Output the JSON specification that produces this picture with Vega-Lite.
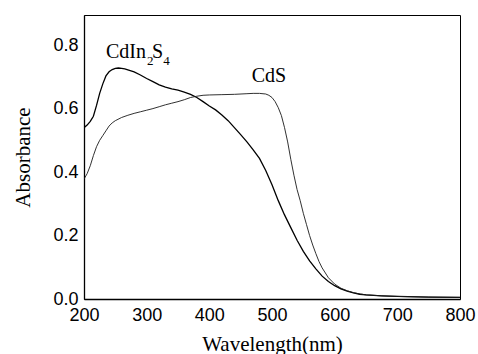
{
  "$schema": "https://vega.github.io/schema/vega-lite/v6.json",
  "width": 376,
  "height": 284,
  "autosize": "none",
  "padding": {"left": 84, "top": 15, "right": 18, "bottom": 55},
  "background": "white",
  "config": {
    "view": {"stroke": "black", "strokeWidth": 1},
    "axis": {
      "grid": false,
      "labelFont": "Liberation Sans",
      "labelFontSize": 18,
      "labelColor": "black",
      "titleFont": "Liberation Serif",
      "titleFontSize": 21,
      "titleFontWeight": "normal",
      "titleColor": "black",
      "domainColor": "black",
      "domainWidth": 1.3,
      "tickColor": "black",
      "tickWidth": 1
    }
  },
  "layer": [
    {
      "data": {
        "values": [
          {"sample": "CdIn2S4", "wavelength": 200, "absorbance": 0.54},
          {"sample": "CdIn2S4", "wavelength": 205, "absorbance": 0.548},
          {"sample": "CdIn2S4", "wavelength": 210, "absorbance": 0.56},
          {"sample": "CdIn2S4", "wavelength": 215, "absorbance": 0.576},
          {"sample": "CdIn2S4", "wavelength": 220, "absorbance": 0.61},
          {"sample": "CdIn2S4", "wavelength": 225, "absorbance": 0.648},
          {"sample": "CdIn2S4", "wavelength": 230, "absorbance": 0.678},
          {"sample": "CdIn2S4", "wavelength": 235, "absorbance": 0.703},
          {"sample": "CdIn2S4", "wavelength": 240, "absorbance": 0.716},
          {"sample": "CdIn2S4", "wavelength": 245, "absorbance": 0.723},
          {"sample": "CdIn2S4", "wavelength": 250, "absorbance": 0.727},
          {"sample": "CdIn2S4", "wavelength": 255, "absorbance": 0.728},
          {"sample": "CdIn2S4", "wavelength": 260, "absorbance": 0.727},
          {"sample": "CdIn2S4", "wavelength": 265, "absorbance": 0.725},
          {"sample": "CdIn2S4", "wavelength": 270, "absorbance": 0.722},
          {"sample": "CdIn2S4", "wavelength": 280, "absorbance": 0.716},
          {"sample": "CdIn2S4", "wavelength": 290, "absorbance": 0.706},
          {"sample": "CdIn2S4", "wavelength": 300, "absorbance": 0.695},
          {"sample": "CdIn2S4", "wavelength": 310, "absorbance": 0.685},
          {"sample": "CdIn2S4", "wavelength": 320, "absorbance": 0.675},
          {"sample": "CdIn2S4", "wavelength": 330, "absorbance": 0.668},
          {"sample": "CdIn2S4", "wavelength": 340, "absorbance": 0.662},
          {"sample": "CdIn2S4", "wavelength": 350, "absorbance": 0.658},
          {"sample": "CdIn2S4", "wavelength": 360, "absorbance": 0.652},
          {"sample": "CdIn2S4", "wavelength": 370, "absorbance": 0.645},
          {"sample": "CdIn2S4", "wavelength": 380, "absorbance": 0.635},
          {"sample": "CdIn2S4", "wavelength": 390, "absorbance": 0.622},
          {"sample": "CdIn2S4", "wavelength": 400, "absorbance": 0.608},
          {"sample": "CdIn2S4", "wavelength": 410, "absorbance": 0.596},
          {"sample": "CdIn2S4", "wavelength": 420, "absorbance": 0.58},
          {"sample": "CdIn2S4", "wavelength": 430, "absorbance": 0.562},
          {"sample": "CdIn2S4", "wavelength": 440, "absorbance": 0.54},
          {"sample": "CdIn2S4", "wavelength": 450, "absorbance": 0.518},
          {"sample": "CdIn2S4", "wavelength": 460, "absorbance": 0.495},
          {"sample": "CdIn2S4", "wavelength": 470, "absorbance": 0.47},
          {"sample": "CdIn2S4", "wavelength": 480, "absorbance": 0.443},
          {"sample": "CdIn2S4", "wavelength": 490, "absorbance": 0.405},
          {"sample": "CdIn2S4", "wavelength": 500, "absorbance": 0.36},
          {"sample": "CdIn2S4", "wavelength": 510, "absorbance": 0.31},
          {"sample": "CdIn2S4", "wavelength": 520, "absorbance": 0.265},
          {"sample": "CdIn2S4", "wavelength": 530, "absorbance": 0.225},
          {"sample": "CdIn2S4", "wavelength": 540, "absorbance": 0.185},
          {"sample": "CdIn2S4", "wavelength": 550, "absorbance": 0.15},
          {"sample": "CdIn2S4", "wavelength": 560, "absorbance": 0.12},
          {"sample": "CdIn2S4", "wavelength": 570, "absorbance": 0.095},
          {"sample": "CdIn2S4", "wavelength": 580, "absorbance": 0.072},
          {"sample": "CdIn2S4", "wavelength": 590, "absorbance": 0.055},
          {"sample": "CdIn2S4", "wavelength": 600, "absorbance": 0.042},
          {"sample": "CdIn2S4", "wavelength": 610, "absorbance": 0.032},
          {"sample": "CdIn2S4", "wavelength": 620, "absorbance": 0.025},
          {"sample": "CdIn2S4", "wavelength": 630, "absorbance": 0.019},
          {"sample": "CdIn2S4", "wavelength": 640, "absorbance": 0.015},
          {"sample": "CdIn2S4", "wavelength": 650, "absorbance": 0.013},
          {"sample": "CdIn2S4", "wavelength": 675, "absorbance": 0.01},
          {"sample": "CdIn2S4", "wavelength": 700, "absorbance": 0.008},
          {"sample": "CdIn2S4", "wavelength": 750, "absorbance": 0.006},
          {"sample": "CdIn2S4", "wavelength": 800, "absorbance": 0.005},
          {"sample": "CdS", "wavelength": 200, "absorbance": 0.378},
          {"sample": "CdS", "wavelength": 205, "absorbance": 0.395},
          {"sample": "CdS", "wavelength": 210, "absorbance": 0.42},
          {"sample": "CdS", "wavelength": 215, "absorbance": 0.452},
          {"sample": "CdS", "wavelength": 220, "absorbance": 0.48},
          {"sample": "CdS", "wavelength": 225, "absorbance": 0.5},
          {"sample": "CdS", "wavelength": 230, "absorbance": 0.515},
          {"sample": "CdS", "wavelength": 235, "absorbance": 0.53},
          {"sample": "CdS", "wavelength": 240, "absorbance": 0.545},
          {"sample": "CdS", "wavelength": 245, "absorbance": 0.555},
          {"sample": "CdS", "wavelength": 250, "absorbance": 0.562},
          {"sample": "CdS", "wavelength": 260, "absorbance": 0.572},
          {"sample": "CdS", "wavelength": 270, "absorbance": 0.579},
          {"sample": "CdS", "wavelength": 280, "absorbance": 0.585},
          {"sample": "CdS", "wavelength": 290, "absorbance": 0.59},
          {"sample": "CdS", "wavelength": 300, "absorbance": 0.595},
          {"sample": "CdS", "wavelength": 310, "absorbance": 0.6},
          {"sample": "CdS", "wavelength": 320, "absorbance": 0.606},
          {"sample": "CdS", "wavelength": 330, "absorbance": 0.612},
          {"sample": "CdS", "wavelength": 340, "absorbance": 0.617},
          {"sample": "CdS", "wavelength": 350, "absorbance": 0.622},
          {"sample": "CdS", "wavelength": 360, "absorbance": 0.628},
          {"sample": "CdS", "wavelength": 370, "absorbance": 0.635},
          {"sample": "CdS", "wavelength": 380, "absorbance": 0.639},
          {"sample": "CdS", "wavelength": 390, "absorbance": 0.642},
          {"sample": "CdS", "wavelength": 400, "absorbance": 0.643},
          {"sample": "CdS", "wavelength": 420, "absorbance": 0.644},
          {"sample": "CdS", "wavelength": 440, "absorbance": 0.645},
          {"sample": "CdS", "wavelength": 460, "absorbance": 0.647},
          {"sample": "CdS", "wavelength": 470, "absorbance": 0.648},
          {"sample": "CdS", "wavelength": 480, "absorbance": 0.648},
          {"sample": "CdS", "wavelength": 490, "absorbance": 0.646},
          {"sample": "CdS", "wavelength": 495, "absorbance": 0.642},
          {"sample": "CdS", "wavelength": 500, "absorbance": 0.635},
          {"sample": "CdS", "wavelength": 505, "absorbance": 0.622},
          {"sample": "CdS", "wavelength": 510, "absorbance": 0.603},
          {"sample": "CdS", "wavelength": 515, "absorbance": 0.578},
          {"sample": "CdS", "wavelength": 520, "absorbance": 0.54},
          {"sample": "CdS", "wavelength": 525, "absorbance": 0.495},
          {"sample": "CdS", "wavelength": 530, "absorbance": 0.44},
          {"sample": "CdS", "wavelength": 535, "absorbance": 0.39},
          {"sample": "CdS", "wavelength": 540, "absorbance": 0.345},
          {"sample": "CdS", "wavelength": 545, "absorbance": 0.31},
          {"sample": "CdS", "wavelength": 550, "absorbance": 0.27},
          {"sample": "CdS", "wavelength": 555, "absorbance": 0.235},
          {"sample": "CdS", "wavelength": 560, "absorbance": 0.2},
          {"sample": "CdS", "wavelength": 565, "absorbance": 0.17},
          {"sample": "CdS", "wavelength": 570, "absorbance": 0.143},
          {"sample": "CdS", "wavelength": 575, "absorbance": 0.118},
          {"sample": "CdS", "wavelength": 580, "absorbance": 0.098},
          {"sample": "CdS", "wavelength": 590, "absorbance": 0.067},
          {"sample": "CdS", "wavelength": 600, "absorbance": 0.047},
          {"sample": "CdS", "wavelength": 610, "absorbance": 0.034},
          {"sample": "CdS", "wavelength": 620, "absorbance": 0.026},
          {"sample": "CdS", "wavelength": 630, "absorbance": 0.02},
          {"sample": "CdS", "wavelength": 640, "absorbance": 0.016},
          {"sample": "CdS", "wavelength": 650, "absorbance": 0.013},
          {"sample": "CdS", "wavelength": 675, "absorbance": 0.01},
          {"sample": "CdS", "wavelength": 700, "absorbance": 0.008},
          {"sample": "CdS", "wavelength": 750, "absorbance": 0.006},
          {"sample": "CdS", "wavelength": 800, "absorbance": 0.005}
        ]
      },
      "mark": {"type": "line", "clip": true},
      "encoding": {
        "x": {
          "field": "wavelength",
          "type": "quantitative",
          "scale": {"domain": [200, 800], "nice": false, "zero": false},
          "axis": {
            "values": [200, 250, 300, 350, 400, 450, 500, 550, 600, 650, 700, 750, 800],
            "labelExpr": "datum.value % 100 === 0 ? datum.label : ''",
            "tickSize": -5,
            "tickOpacity": {"condition": {"test": "datum.value % 100 !== 0", "value": 1}, "value": 0},
            "labelPadding": 12,
            "labelFlush": false,
            "title": "Wavelength(nm)",
            "titlePadding": 9
          }
        },
        "y": {
          "field": "absorbance",
          "type": "quantitative",
          "scale": {"domain": [0, 0.895], "nice": false},
          "axis": {
            "values": [0, 0.1, 0.2, 0.3, 0.4, 0.5, 0.6, 0.7, 0.8],
            "labelExpr": "round(datum.value * 10) % 2 === 0 ? format(datum.value, '.1f') : ''",
            "tickSize": -5,
            "tickOpacity": {"condition": {"test": "round(datum.value * 10) % 2 === 1", "value": 1}, "value": 0},
            "labelPadding": 11,
            "labelFlush": false,
            "title": "Absorbance",
            "titlePadding": 19
          }
        },
        "color": {
          "field": "sample",
          "type": "nominal",
          "scale": {"domain": ["CdIn2S4", "CdS"], "range": ["#000000", "#1a1a1a"]},
          "legend": null
        },
        "strokeWidth": {
          "field": "sample",
          "type": "nominal",
          "scale": {"domain": ["CdIn2S4", "CdS"], "range": [1.3, 0.9]},
          "legend": null
        }
      }
    },
    {
      "data": {
        "values": [
          {"label": "CdIn", "wavelength": 235, "absorbance": 0.758},
          {"label": "S", "wavelength": 308.5, "absorbance": 0.758},
          {"label": "CdS", "wavelength": 467.5, "absorbance": 0.683}
        ]
      },
      "mark": {"type": "text", "font": "Liberation Serif", "fontSize": 20, "align": "left", "baseline": "alphabetic", "color": "black"},
      "encoding": {
        "x": {"field": "wavelength", "type": "quantitative"},
        "y": {"field": "absorbance", "type": "quantitative"},
        "text": {"field": "label"}
      }
    },
    {
      "data": {
        "values": [
          {"label": "2", "wavelength": 300.5, "absorbance": 0.737},
          {"label": "4", "wavelength": 326.5, "absorbance": 0.737}
        ]
      },
      "mark": {"type": "text", "font": "Liberation Serif", "fontSize": 13, "align": "left", "baseline": "alphabetic", "color": "black"},
      "encoding": {
        "x": {"field": "wavelength", "type": "quantitative"},
        "y": {"field": "absorbance", "type": "quantitative"},
        "text": {"field": "label"}
      }
    }
  ]
}
